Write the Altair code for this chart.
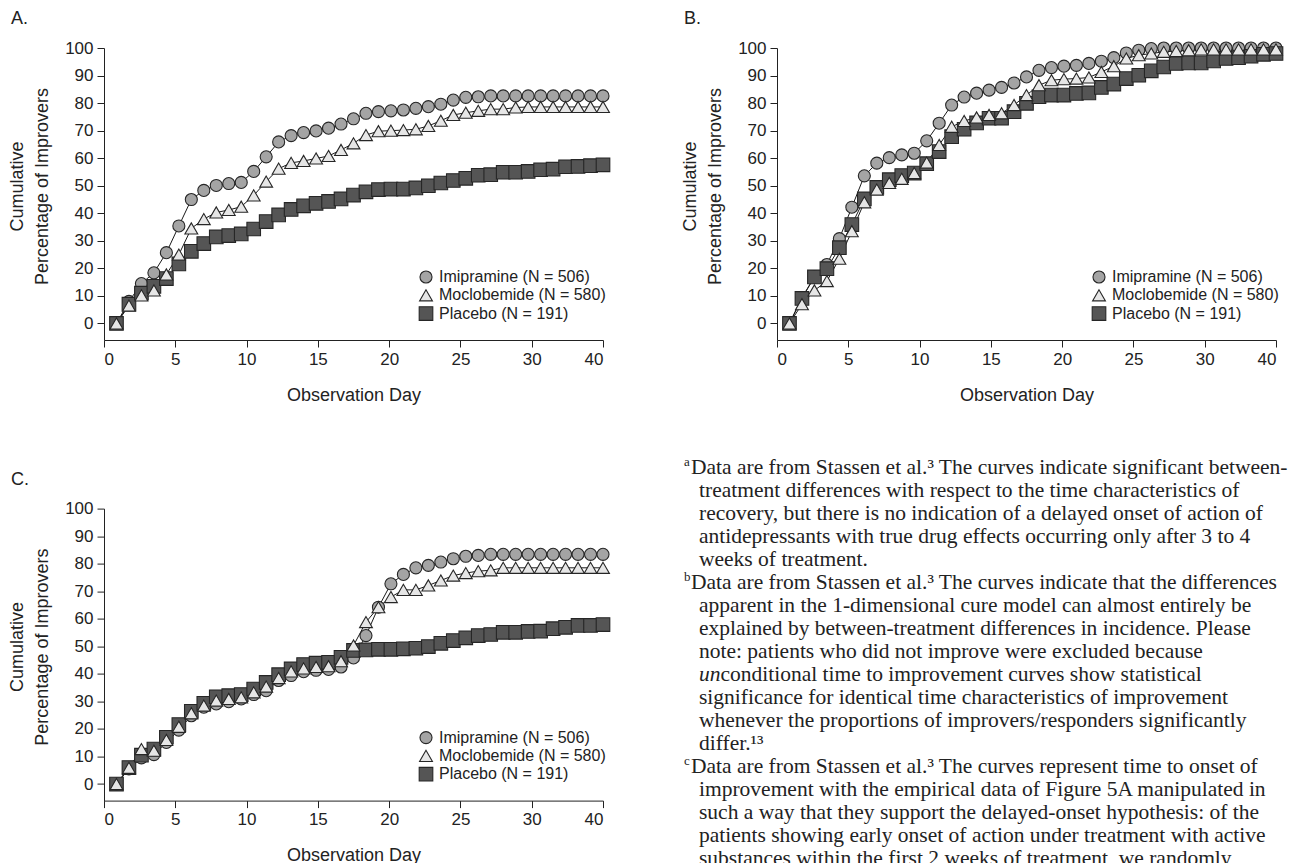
import altair as alt
import pandas as pd

DAYS = list(range(1, 41))
SERIES = ["Imipramine (N = 506)", "Moclobemide (N = 580)", "Placebo (N = 191)"]
SHAPES = ["circle", "triangle-up", "square"]
FILLS = ["#a4a4a4", "#e6e6e6", "#555555"]
SIZES = [145, 185, 135]

XTICK_LABELS = ["0", "5", "10", "15", "20", "25", "30", "40"]
YTICKS = [0, 10, 20, 30, 40, 50, 60, 70, 80, 90, 100]

# Panel A
A_IMI = [0, 8.0, 14.5, 18.4, 25.7, 35.4, 45.0, 48.3, 50.1, 50.8, 51.2, 55.2, 60.5, 65.9, 68.2, 69.3,
         69.9, 70.9, 72.4, 74.3, 76.3, 76.9, 77.2, 77.5, 78.1, 78.7, 79.6, 81.1, 82.1, 82.3,
         82.6, 82.6, 82.6, 82.6, 82.6, 82.6, 82.6, 82.6, 82.6, 82.6]
A_MOC = [0, 6.5, 10.2, 12.0, 17.8, 25.0, 34.5, 37.9, 40.3, 41.2, 42.4, 46.5, 51.5, 56.2, 58.3, 59.0,
         59.9, 60.8, 63.0, 65.4, 68.4, 69.8, 70.0, 70.2, 70.5, 71.7, 73.6, 75.7, 76.5, 77.2,
         77.8, 77.8, 78.4, 78.6, 78.6, 78.6, 78.6, 78.6, 78.6, 78.6]
A_PLA = [0, 7.0, 11.0, 13.5, 16.3, 21.6, 26.2, 29.0, 31.4, 31.9, 32.5, 34.3, 37.0, 39.4, 41.4, 42.7,
         43.6, 44.3, 45.2, 46.6, 47.8, 48.6, 48.8, 48.8, 49.2, 50.0, 51.0, 51.9, 52.7, 53.8,
         54.0, 54.9, 54.9, 55.2, 55.8, 56.0, 56.9, 57.0, 57.3, 57.6]

# Panel B
B_IMI = [0, 9.4, 16.9, 21.4, 30.8, 42.2, 53.6, 58.2, 60.2, 61.2, 61.8, 66.3, 72.7, 79.3, 82.2, 83.6,
         84.7, 85.7, 87.3, 89.5, 91.9, 92.9, 93.4, 93.7, 94.4, 95.2, 96.5, 98.2, 99.2, 99.8,
         100, 100, 100, 100, 100, 100, 100, 100, 100, 100]
B_MOC = [0, 7.0, 12.0, 15.4, 23.5, 33.5, 44.0, 48.6, 51.0, 52.5, 54.6, 58.4, 64.8, 71.4, 73.5, 74.8,
         75.7, 76.3, 79.3, 82.9, 86.5, 88.3, 88.7, 88.9, 89.3, 91.3, 93.4, 96.2, 97.4, 98.0,
         98.6, 98.9, 99.2, 99.5, 99.5, 99.5, 99.5, 99.5, 99.5, 99.5]
B_PLA = [0, 9.1, 16.9, 19.9, 27.5, 35.9, 45.2, 49.4, 52.2, 53.7, 54.6, 58.0, 62.4, 67.8, 70.5, 72.8,
         74.5, 74.5, 76.9, 79.9, 82.3, 82.9, 82.9, 83.5, 83.7, 85.7, 86.9, 88.9, 90.1, 91.7,
         93.1, 94.4, 94.6, 94.6, 95.3, 96.2, 96.5, 97.0, 97.7, 98.0]

# Panel C
C_IMI = [0, 5.5, 9.5, 10.7, 15.1, 19.6, 24.8, 27.9, 29.1, 29.9, 30.9, 32.5, 33.9, 37.6, 39.4, 40.8,
         41.3, 41.6, 42.5, 45.8, 53.9, 64.2, 72.7, 76.1, 78.5, 79.4, 80.6, 81.8, 82.7, 83.0,
         83.4, 83.4, 83.4, 83.4, 83.4, 83.4, 83.4, 83.4, 83.4, 83.4]
C_MOC = [0, 5.9, 12.7, 12.1, 16.0, 20.8, 25.7, 28.5, 30.3, 30.9, 31.5, 33.3, 35.4, 38.5, 40.9, 42.0,
         42.5, 42.8, 44.6, 50.3, 58.8, 64.2, 67.9, 70.5, 70.5, 72.1, 73.9, 75.7, 76.6, 77.3,
         77.6, 78.5, 78.5, 78.5, 78.5, 78.5, 78.5, 78.5, 78.5, 78.5]
C_PLA = [0, 6.0, 10.5, 12.7, 17.0, 21.6, 26.4, 29.3, 31.7, 32.1, 32.5, 34.5, 36.9, 39.7, 41.8, 43.4,
         43.9, 44.2, 46.0, 48.5, 48.7, 48.9, 48.9, 49.1, 49.3, 49.9, 51.1, 52.1, 53.1, 53.9,
         54.3, 55.1, 55.1, 55.4, 55.5, 56.4, 56.9, 57.6, 57.6, 57.9]

NOTE_LINES = [
    "Data are from Stassen et al.\u00b3 The curves indicate significant between-",
    "treatment differences with respect to the time characteristics of",
    "recovery, but there is no indication of a delayed onset of action of",
    "antidepressants with true drug effects occurring only after 3 to 4",
    "weeks of treatment.",
    "Data are from Stassen et al.\u00b3 The curves indicate that the differences",
    "apparent in the 1-dimensional cure model can almost entirely be",
    "explained by between-treatment differences in incidence. Please",
    "note: patients who did not improve were excluded because",
    "conditional time to improvement curves show statistical",
    "significance for identical time characteristics of improvement",
    "whenever the proportions of improvers/responders significantly",
    "differ.\u00b9\u00b3",
    "Data are from Stassen et al.\u00b3 The curves represent time to onset of",
    "improvement with the empirical data of Figure 5A manipulated in",
    "such a way that they support the delayed-onset hypothesis: of the",
    "patients showing early onset of action under treatment with active",
    "substances within the first 2 weeks of treatment, we randomly",
]
NOTE_FIRST = [0, 5, 13]
NOTE_MARKS = ["a", "b", "c"]
ITALIC_LINE = 9
ITALIC_PREFIX = "un"

SANS = "Liberation Sans"
SERIF = "Liberation Serif"
INK = "#222222"
EDGE = "#262626"

XTICKS = [i * 40 / 7 for i in range(len(XTICK_LABELS))]
LABEL_EXPR = "[" + ",".join("'%s'" % s for s in XTICK_LABELS) + "][round(datum.value*7/40)]"

PW, PH = 499, 292


def panel_df(imi, moc, pla):
    rows = []
    for name, vals in [(SERIES[0], imi), (SERIES[2], pla), (SERIES[1], moc)]:
        for d, v in zip(DAYS, vals):
            rows.append({"day": d, "pct": v, "series": name})
    return pd.DataFrame(rows)


SHAPE_ENC = alt.Shape("series:N", scale=alt.Scale(domain=SERIES, range=SHAPES), legend=None)
FILL_ENC = alt.Fill("series:N", scale=alt.Scale(domain=SERIES, range=FILLS), legend=None)
SIZE_ENC = alt.Size("series:N", scale=alt.Scale(domain=SERIES, range=SIZES), legend=None)

LEG_DF = pd.DataFrame({"series": SERIES, "row": [0, 1, 2]})


def panel(df, letter):
    x = alt.X("day:Q",
              scale=alt.Scale(domain=[0, 40], nice=False, zero=False),
              axis=alt.Axis(values=XTICKS, labelExpr=LABEL_EXPR, title="Observation Day",
                            titlePadding=19, labelPadding=4))
    y = alt.Y("pct:Q",
              scale=alt.Scale(domain=[-6, 100], nice=False, zero=False),
              axis=alt.Axis(values=YTICKS, title=["Cumulative", "Percentage of Improvers"],
                            titleX=-86.5, titleY=138, titleAngle=270, titleAlign="center",
                            titleBaseline="middle", titleLineHeight=25, labelPadding=4))
    lines = alt.Chart(df).mark_line(color="#1a1a1a", strokeWidth=1).encode(
        x=x, y=y, detail="series:N")
    pts = alt.Chart(df).mark_point(filled=True, opacity=1, stroke=EDGE, strokeWidth=1.1).encode(
        x=x, y=y, shape=SHAPE_ENC, fill=FILL_ENC, size=SIZE_ENC)
    main = alt.layer(lines, pts)

    ly = alt.Y("row:Q", scale=alt.Scale(domain=[0, 2], range=[229, 265.6]), axis=None)
    leg_pts = alt.Chart(LEG_DF).mark_point(filled=True, opacity=1, stroke=EDGE, strokeWidth=1.1).encode(
        x=alt.value(322), y=ly, shape=SHAPE_ENC, fill=FILL_ENC, size=SIZE_ENC)
    leg_txt = alt.Chart(LEG_DF).mark_text(align="left", baseline="middle", font=SANS, fontSize=16,
                                          color=INK).encode(x=alt.value(335), y=ly, text="series:N")
    legend = alt.layer(leg_pts, leg_txt)

    return alt.layer(main, legend).resolve_scale(y="independent").properties(
        width=PW, height=PH,
        title=alt.TitleParams(letter, anchor="start", frame="group", dx=-93, offset=11,
                              fontSize=18, font=SANS, fontWeight="normal", color=INK))


chartA = panel(panel_df(A_IMI, A_MOC, A_PLA), "A.")
chartB = panel(panel_df(B_IMI, B_MOC, B_PLA), "B.")
chartC = panel(panel_df(C_IMI, C_MOC, C_PLA), "C.")

# footnote block
note_rows = []
for i, t in enumerate(NOTE_LINES):
    if i == ITALIC_LINE:
        continue
    note_rows.append({"line": i, "text": t, "indent": 0 if i in NOTE_FIRST else 1})
note_df = pd.DataFrame(note_rows)
mark_df = pd.DataFrame({"line": NOTE_FIRST, "text": NOTE_MARKS})
ital_df = pd.DataFrame({"line": [ITALIC_LINE], "text": [ITALIC_PREFIX], "indent": [1]})
rest_df = pd.DataFrame({"line": [ITALIC_LINE], "text": [NOTE_LINES[ITALIC_LINE]], "indent": [1]})

ny = alt.Y("line:Q", scale=alt.Scale(domain=[0, len(NOTE_LINES) - 1], range=[-41, -41 + 23 * 17]), axis=None)
nx = alt.X("indent:Q", scale=alt.Scale(domain=[0, 1], range=[7, 15]), axis=None)
NFS = 21.5
t_main = alt.Chart(note_df).mark_text(align="left", baseline="middle", font=SERIF, fontSize=NFS,
                                      color=INK).encode(x=nx, y=ny, text="text:N")
t_marks = alt.Chart(mark_df).mark_text(align="left", baseline="middle", font=SERIF, fontSize=13,
                                       color=INK, dy=-6).encode(x=alt.value(0), y=ny, text="text:N")
t_ital = alt.Chart(ital_df).mark_text(align="left", baseline="middle", font=SERIF, fontSize=NFS,
                                      fontStyle="italic", color=INK).encode(x=nx, y=ny, text="text:N")
t_rest = alt.Chart(rest_df).mark_text(align="left", baseline="middle", font=SERIF, fontSize=NFS,
                                      color=INK, dx=21.5).encode(x=nx, y=ny, text="text:N")
notes = alt.layer(t_main, t_marks, t_ital, t_rest).properties(width=560, height=PH)

row1 = alt.hconcat(chartA, chartB, spacing=174, bounds="flush")
row2 = alt.hconcat(chartC, notes, spacing=81, bounds="flush")

chart = alt.vconcat(row1, row2, spacing=460.6, bounds="flush").properties(
    padding={"left": 0, "top": 2, "right": 0, "bottom": 0}
).configure_view(stroke=None).configure_axis(
    grid=False, domainColor=INK, domainWidth=1, tickColor=INK, tickWidth=1, tickSize=7,
    labelFont=SANS, labelFontSize=17, labelColor=INK,
    titleFont=SANS, titleFontSize=18, titleFontWeight="normal", titleColor=INK,
)

chart.save("out.html", embed_options={"renderer": "svg", "actions": False})
